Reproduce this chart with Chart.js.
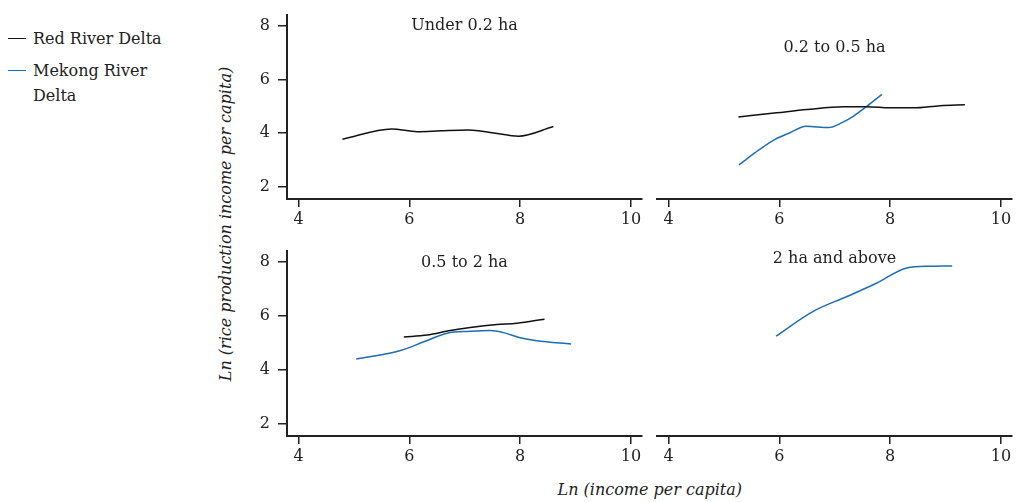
<!DOCTYPE html>
<html>
<head>
<meta charset="utf-8">
<script src="https://cdn.jsdelivr.net/npm/chart.js@4/dist/chart.umd.min.js"></script>
<style>
  html, body { margin: 0; padding: 0; background: #fff; width: 1016px; height: 502px; overflow: hidden; }
  body { position: relative; font-family: "DejaVu Serif", serif; color: #222; }
  canvas { position: absolute; }
  .leg { position: absolute; left: 8px; font-size: 16px; line-height: 25px; }
  .leg .mk { position: absolute; left: 0; top: 12px; width: 18px; border-top: 1.5px solid #111; }
  .leg .tx { position: absolute; left: 25px; top: 0; }
  .ttl { position: absolute; font-size: 16px; font-style: italic; white-space: nowrap; line-height: 20px; }
</style>
</head>
<body>
<div class="leg" style="top:26px;"><span class="mk" style="border-color:#111;"></span><span class="tx" style="white-space:nowrap;">Red River Delta</span></div>
<div class="leg" style="top:58px;"><span class="mk" style="border-color:#1f6db1;"></span><span class="tx" style="width:130px;">Mekong River Delta</span></div>
<div class="ttl" id="ytitle">Ln (rice production income per capita)</div>
<div class="ttl" id="xtitle">Ln (income per capita)</div>

<canvas id="c1" width="419" height="242" style="left:227px; top:-3px;"></canvas>
<canvas id="c2" width="369" height="242" style="left:647px; top:-3px;"></canvas>
<canvas id="c3" width="419" height="243" style="left:227px; top:233px;"></canvas>
<canvas id="c4" width="369" height="243" style="left:647px; top:233px;"></canvas>

<script>
// ---- data ----
const xTicks = [4, 6, 8, 10];
const yTicks = [2, 4, 6, 8];
const panelTitles = ["Under 0.2 ha", "0.2 to 0.5 ha", "0.5 to 2 ha", "2 ha and above"];
const seriesNames = ["Red River Delta", "Mekong River Delta"];

// Under 0.2 ha
const redIncomeP1 = [4.79, 5.68, 6.14, 6.56, 7.07, 7.52, 7.97, 8.60];
const redRiceP1   = [3.78, 4.16, 4.06, 4.09, 4.12, 4.01, 3.89, 4.25];
const mekIncomeP1 = [];
const mekRiceP1   = [];

// 0.2 to 0.5 ha
const redIncomeP2 = [5.26, 5.95, 6.50, 7.16, 7.58, 8.00, 8.42, 8.90, 9.35];
const redRiceP2   = [4.55, 4.70, 4.82, 4.92, 4.92, 4.88, 4.88, 4.96, 4.99];
const mekIncomeP2 = [5.27, 5.65, 5.92, 6.19, 6.48, 6.89, 7.13, 7.34, 7.58, 7.85];
const mekRiceP2   = [2.80, 3.37, 3.73, 3.97, 4.21, 4.16, 4.34, 4.58, 4.94, 5.37];

// 0.5 to 2 ha
const redIncomeP3 = [5.90, 6.32, 6.74, 7.10, 7.58, 7.94, 8.44];
const redRiceP3   = [5.22, 5.29, 5.46, 5.57, 5.68, 5.73, 5.88];
const mekIncomeP3 = [5.04, 5.84, 6.26, 6.68, 7.10, 7.46, 7.70, 8.00, 8.30, 8.92];
const mekRiceP3   = [4.40, 4.72, 5.04, 5.36, 5.43, 5.46, 5.38, 5.19, 5.08, 4.96];

// 2 ha and above
const redIncomeP4 = [];
const redRiceP4   = [];
const mekIncomeP4 = [5.94, 6.61, 7.22, 7.76, 8.30, 8.72, 9.12];
const mekRiceP4   = [5.18, 6.08, 6.62, 7.11, 7.66, 7.72, 7.73];

const xMin = 3.79, xMax = 10.2;
const yMin = 1.55, yMax = 8.42;

// ---- styling ----
const FONT = "'DejaVu Serif', serif";
const RED_COLOR = "#111111";
const MEK_COLOR = "#1f6db1";
const AXIS_COLOR = "#222222";

Chart.defaults.font.family = FONT;
Chart.defaults.font.size = 16;
Chart.defaults.color = "#222";

const panelTitlePlugin = {
  id: "panelTitle",
  afterDraw(chart, args, opts) {
    const { ctx, chartArea } = chart;
    ctx.save();
    ctx.font = "16px " + FONT;
    ctx.fillStyle = "#222";
    ctx.textAlign = "center";
    ctx.textBaseline = "alphabetic";
    ctx.fillText(opts.text, (chartArea.left + chartArea.right) / 2, chartArea.top + opts.offset);
    ctx.restore();
  }
};

function toPoints(xs, ys) { return xs.map((x, i) => ({ x: x, y: ys[i] })); }

function makePanel(id, title, showY, redX, redY, mekX, mekY, titleOffset) {
  const ctx = document.getElementById(id);
  return new Chart(ctx, {
    type: "line",
    data: {
      datasets: [
        { label: seriesNames[0], data: toPoints(redX, redY), borderColor: RED_COLOR, borderWidth: 1.5,
          pointRadius: 0, fill: false, cubicInterpolationMode: "monotone" },
        { label: seriesNames[1], data: toPoints(mekX, mekY), borderColor: MEK_COLOR, borderWidth: 1.5,
          pointRadius: 0, fill: false, cubicInterpolationMode: "monotone" }
      ]
    },
    options: {
      responsive: false,
      animation: false,
      devicePixelRatio: 1,
      layout: { padding: { top: 14, right: 4, bottom: 4, left: 10 } },
      plugins: {
        legend: { display: false },
        tooltip: { enabled: false },
        panelTitle: { text: title, offset: titleOffset }
      },
      scales: {
        x: {
          type: "linear", min: xMin, max: xMax,
          afterBuildTicks: s => { s.ticks = xTicks.map(v => ({ value: v })); },
          afterFit: s => { s.height = 36; },
          grid: { display: true, drawOnChartArea: false, drawTicks: true, tickLength: 8, color: AXIS_COLOR, lineWidth: 1.5 },
          border: { display: true, color: AXIS_COLOR, width: 2 },
          ticks: { padding: 3, color: "#222", font: { size: 16 }, maxRotation: 0, autoSkip: false }
        },
        y: {
          type: "linear", min: yMin, max: yMax, display: showY,
          afterBuildTicks: s => { s.ticks = yTicks.map(v => ({ value: v })); },
          afterFit: s => { s.width = showY ? 50 : 0; },
          grid: { display: true, drawOnChartArea: false, drawTicks: true, tickLength: 9, color: AXIS_COLOR, lineWidth: 1.5 },
          border: { display: true, color: AXIS_COLOR, width: 2 },
          ticks: { padding: 8, color: "#222", font: { size: 16 }, autoSkip: false }
        }
      }
    },
    plugins: [panelTitlePlugin]
  });
}

makePanel("c1", panelTitles[0], true,  redIncomeP1, redRiceP1, mekIncomeP1, mekRiceP1, 15);
makePanel("c2", panelTitles[1], false, redIncomeP2, redRiceP2, mekIncomeP2, mekRiceP2, 41);
makePanel("c3", panelTitles[2], true,  redIncomeP3, redRiceP3, mekIncomeP3, mekRiceP3, 16);
makePanel("c4", panelTitles[3], false, redIncomeP4, redRiceP4, mekIncomeP4, mekRiceP4, 16);

// shared axis titles positioned by their centres
const yt = document.getElementById("ytitle");
const xt = document.getElementById("xtitle");
const yw = yt.offsetWidth, yh = yt.offsetHeight;
yt.style.left = (226 - yw / 2) + "px";
yt.style.top = (224 - yh / 2) + "px";
yt.style.transform = "rotate(-90deg)";
const xw = xt.offsetWidth;
xt.style.left = (650 - xw / 2) + "px";
xt.style.top = "480px";
</script>
</body>
</html>
